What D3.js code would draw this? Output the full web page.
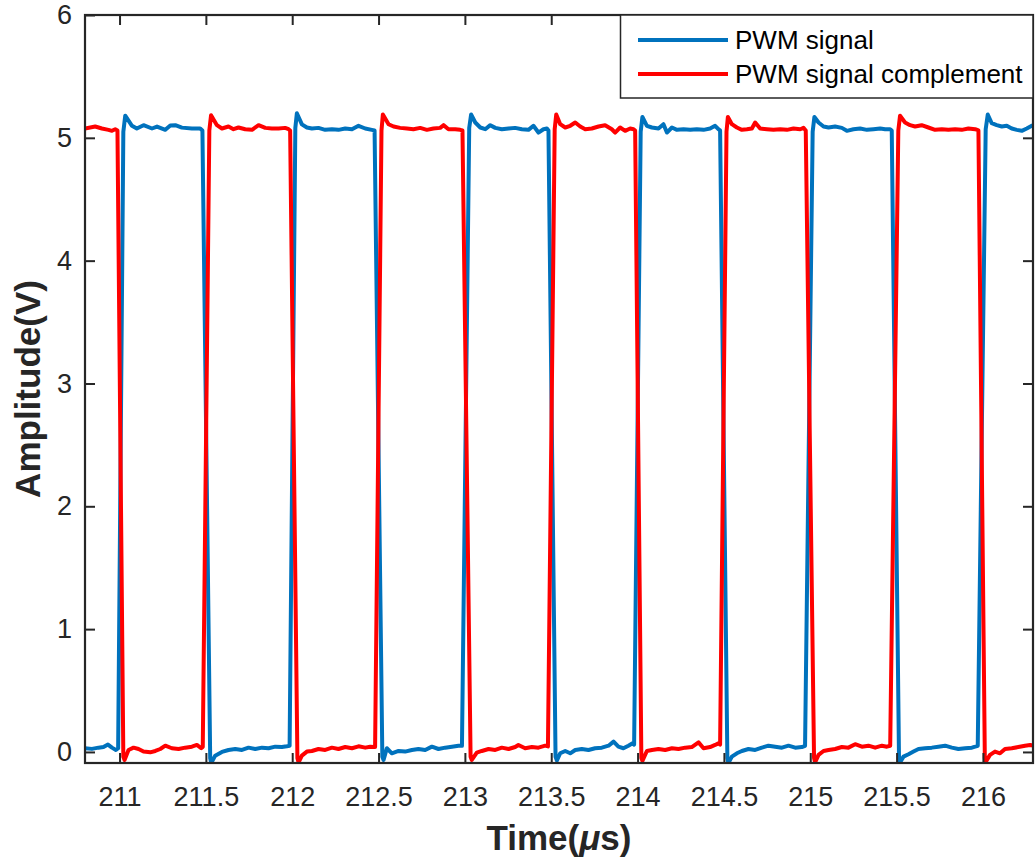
<!DOCTYPE html>
<html>
<head>
<meta charset="utf-8">
<script src="https://cdn.jsdelivr.net/npm/d3@7"></script>
<style>
  html, body { margin: 0; padding: 0; background: #fff; }
  svg { display: block; font-family: "Liberation Sans", Arial, sans-serif; }
</style>
</head>
<body>
<svg id="chart" width="1035" height="863"></svg>
<script>
// ---------------- DATA ----------------
const xTicks = [211, 211.5, 212, 212.5, 213, 213.5, 214, 214.5, 215, 215.5, 216];
const yTicks = [0, 1, 2, 3, 4, 5, 6];
const xDomain = [210.8, 216.29];
const yDomain = [-0.09, 6];
const seriesNames = ["PWM signal", "PWM signal complement"];
const seriesColors = ["#0072BD", "#FF0000"];

// PWM signal: [time (us), amplitude (V)]
const pwmSignal = [
  [210.80,0.030],[210.84,0.025],[210.878,0.035],[210.907,0.040],[210.933,0.060],[210.956,0.035],[210.979,0.016],[210.992,0.030],
  [211.022,5.05],[211.033,5.18],
  [211.072,5.098],[211.10,5.076],[211.139,5.103],[211.188,5.076],[211.217,5.092],[211.265,5.065],[211.294,5.100],[211.323,5.103],[211.361,5.083],[211.419,5.076],[211.467,5.076],[211.480,5.06],
  [211.525,-0.05],[211.531,-0.09],
  [211.554,-0.030],[211.593,0.000],[211.631,0.016],[211.670,0.024],[211.709,0.016],[211.747,0.035],[211.786,0.024],[211.825,0.035],[211.863,0.030],[211.902,0.043],[211.940,0.040],[211.969,0.046],[211.985,0.050],
  [212.018,5.08],[212.027,5.20],
  [212.056,5.11],[212.085,5.084],[212.114,5.076],[212.152,5.081],[212.191,5.065],[212.230,5.070],[212.268,5.065],[212.307,5.076],[212.346,5.070],[212.384,5.098],[212.423,5.076],[212.461,5.065],[212.477,5.06],
  [212.522,-0.04],[212.529,-0.065],
  [212.548,0.030],[212.577,-0.011],[212.616,0.008],[212.654,0.003],[212.693,0.016],[212.731,0.024],[212.770,0.016],[212.809,0.043],[212.847,0.024],[212.886,0.035],[212.925,0.043],[212.963,0.051],[212.983,0.050],
  [213.025,5.08],[213.036,5.19],
  [213.060,5.125],[213.089,5.084],[213.118,5.070],[213.147,5.103],[213.176,5.081],[213.214,5.070],[213.253,5.076],[213.291,5.081],[213.330,5.070],[213.368,5.065],[213.397,5.098],[213.426,5.043],[213.455,5.070],[213.475,5.076],[213.484,5.06],
  [213.525,-0.04],[213.533,-0.07],
  [213.552,-0.011],[213.581,0.008],[213.610,-0.011],[213.639,0.016],[213.677,0.024],[213.716,0.016],[213.754,0.030],[213.793,0.035],[213.832,0.051],[213.861,0.084],[213.889,0.043],[213.918,0.030],[213.947,0.051],[213.971,0.070],[213.980,0.060],
  [214.018,5.05],[214.028,5.17],
  [214.054,5.098],[214.083,5.084],[214.121,5.076],[214.150,5.111],[214.170,5.043],[214.199,5.084],[214.228,5.065],[214.266,5.070],[214.305,5.065],[214.343,5.070],[214.382,5.065],[214.420,5.076],[214.449,5.098],[214.468,5.070],[214.478,5.06],
  [214.520,-0.05],[214.526,-0.09],
  [214.546,-0.038],[214.575,-0.011],[214.604,0.008],[214.642,0.024],[214.681,0.016],[214.720,0.035],[214.758,0.051],[214.797,0.043],[214.836,0.035],[214.874,0.051],[214.913,0.035],[214.951,0.040],[214.970,0.050],
  [215.014,5.05],[215.024,5.17],
  [215.048,5.125],[215.077,5.092],[215.106,5.084],[215.144,5.092],[215.183,5.081],[215.212,5.057],[215.250,5.070],[215.289,5.076],[215.328,5.065],[215.366,5.070],[215.405,5.076],[215.434,5.070],[215.463,5.070],[215.472,5.06],
  [215.514,-0.05],[215.520,-0.085],
  [215.540,-0.038],[215.569,-0.019],[215.598,0.003],[215.627,0.024],[215.665,0.030],[215.704,0.035],[215.742,0.043],[215.781,0.051],[215.820,0.035],[215.858,0.024],[215.897,0.030],[215.936,0.035],[215.955,0.043],[215.970,0.050],
  [216.016,5.07],[216.028,5.19],
  [216.051,5.119],[216.080,5.103],[216.109,5.092],[216.138,5.098],[216.167,5.076],[216.196,5.065],[216.225,5.057],[216.254,5.076],[216.283,5.098],[216.290,5.103]
];

// PWM signal complement: [time (us), amplitude (V)]
const pwmComplement = [
  [210.80,5.076],[210.859,5.092],[210.898,5.076],[210.936,5.065],[210.956,5.057],[210.975,5.070],[210.988,5.06],
  [211.022,-0.04],[211.029,-0.065],
  [211.052,0.016],[211.081,0.035],[211.110,0.024],[211.139,0.003],[211.178,-0.003],[211.207,0.008],[211.236,0.024],[211.265,0.051],[211.303,0.030],[211.342,0.024],[211.380,0.035],[211.419,0.043],[211.448,0.057],[211.473,0.030],[211.482,0.040],
  [211.520,5.06],[211.530,5.184],
  [211.564,5.103],[211.593,5.076],[211.631,5.092],[211.660,5.070],[211.689,5.084],[211.728,5.070],[211.767,5.065],[211.805,5.103],[211.844,5.081],[211.882,5.076],[211.921,5.076],[211.959,5.081],[211.979,5.070],[211.988,5.06],
  [212.030,-0.05],[212.037,-0.085],
  [212.056,-0.030],[212.085,0.003],[212.114,0.008],[212.152,0.024],[212.191,0.016],[212.230,0.035],[212.268,0.024],[212.307,0.040],[212.346,0.030],[212.384,0.046],[212.423,0.035],[212.452,0.043],[212.471,0.040],[212.480,0.040],
  [212.517,5.06],[212.525,5.19],
  [212.558,5.111],[212.587,5.092],[212.625,5.081],[212.664,5.076],[212.702,5.070],[212.741,5.081],[212.780,5.065],[212.818,5.076],[212.857,5.081],[212.876,5.103],[212.905,5.070],[212.944,5.070],[212.973,5.065],[212.986,5.06],
  [213.033,-0.04],[213.040,-0.065],
  [213.069,-0.005],[213.098,0.008],[213.137,0.024],[213.176,0.016],[213.214,0.035],[213.253,0.024],[213.291,0.040],[213.310,0.057],[213.349,0.030],[213.388,0.040],[213.426,0.035],[213.465,0.051],[213.481,0.045],
  [213.520,5.07],[213.529,5.19],
  [213.552,5.111],[213.581,5.084],[213.610,5.098],[213.639,5.125],[213.668,5.092],[213.697,5.070],[213.735,5.076],[213.774,5.092],[213.812,5.103],[213.851,5.070],[213.870,5.043],[213.899,5.084],[213.928,5.057],[213.957,5.076],[213.977,5.070],[213.986,5.06],
  [214.022,-0.05],[214.028,-0.073],
  [214.054,0.008],[214.083,0.016],[214.121,0.024],[214.160,0.016],[214.199,0.030],[214.237,0.024],[214.276,0.035],[214.314,0.040],[214.353,0.078],[214.382,0.030],[214.420,0.040],[214.449,0.057],[214.468,0.070],[214.478,0.060],
  [214.515,5.05],[214.523,5.17],
  [214.546,5.111],[214.575,5.084],[214.604,5.065],[214.633,5.070],[214.662,5.076],[214.681,5.125],[214.710,5.076],[214.749,5.070],[214.787,5.065],[214.826,5.070],[214.865,5.065],[214.903,5.076],[214.942,5.070],[214.961,5.081],[214.974,5.06],
  [215.022,-0.05],[215.028,-0.085],
  [215.048,-0.024],[215.077,0.008],[215.106,0.016],[215.144,0.024],[215.183,0.040],[215.221,0.035],[215.260,0.063],[215.299,0.043],[215.337,0.051],[215.376,0.035],[215.415,0.051],[215.444,0.043],[215.463,0.050],
  [215.510,5.06],[215.520,5.18],
  [215.549,5.125],[215.578,5.103],[215.607,5.092],[215.645,5.103],[215.684,5.084],[215.723,5.065],[215.762,5.070],[215.800,5.065],[215.839,5.070],[215.877,5.065],[215.916,5.076],[215.955,5.070],[215.974,5.06],
  [216.011,-0.05],[216.017,-0.08],
  [216.041,-0.024],[216.070,0.003],[216.099,-0.011],[216.128,0.024],[216.167,0.030],[216.205,0.040],[216.244,0.051],[216.273,0.057],[216.290,0.051]
];

// ---------------- CHART ----------------
const W = 1035, H = 863;
const margin = { left: 85, top: 15, right: 2, bottom: 100 };
const iw = W - margin.left - margin.right;   // 948
const ih = H - margin.top - margin.bottom;   // 748
const axisColor = "#262626";

const svg = d3.select("#chart");
const g = svg.append("g").attr("transform", `translate(${margin.left},${margin.top})`);

const x = d3.scaleLinear().domain(xDomain).range([0, iw]);
const y = d3.scaleLinear().domain(yDomain).range([ih, 0]);

svg.append("defs").append("clipPath").attr("id", "clip")
  .append("rect").attr("x", 0).attr("y", 0).attr("width", iw).attr("height", ih);

// series lines
const line = d3.line().x(d => x(d[0])).y(d => y(d[1]));
const allSeries = [pwmSignal, pwmComplement];
const lines = g.append("g").attr("clip-path", "url(#clip)");
allSeries.forEach((s, i) => {
  lines.append("path")
    .datum(s)
    .attr("fill", "none")
    .attr("stroke", seriesColors[i])
    .attr("stroke-width", 4)
    .attr("stroke-linejoin", "round")
    .attr("d", line);
});

// axes
const fmt = d => String(d);
const tickLen = 10;
function styleAxis(sel) {
  sel.select(".domain").remove();
  sel.selectAll(".tick line").attr("stroke", axisColor).attr("stroke-width", 2);
  sel.selectAll(".tick text").attr("fill", axisColor).attr("font-size", 27);
}
g.append("g").attr("transform", `translate(0,${ih})`)
  .call(d3.axisBottom(x).tickValues(xTicks).tickFormat(fmt).tickSize(-tickLen).tickPadding(24))
  .call(styleAxis)
  .selectAll(".tick text").attr("dy", "0.71em");
g.append("g")
  .call(d3.axisTop(x).tickValues(xTicks).tickFormat("").tickSize(-tickLen))
  .call(styleAxis);
g.append("g")
  .call(d3.axisLeft(y).tickValues(yTicks).tickFormat(fmt).tickSize(-tickLen).tickPadding(13))
  .call(styleAxis);
g.append("g").attr("transform", `translate(${iw},0)`)
  .call(d3.axisRight(y).tickValues(yTicks).tickFormat("").tickSize(-tickLen))
  .call(styleAxis);

// frame
g.append("rect").attr("x", 0).attr("y", 0).attr("width", iw).attr("height", ih)
  .attr("fill", "none").attr("stroke", axisColor).attr("stroke-width", 2.2);

// axis titles
const xt = svg.append("text")
  .attr("x", margin.left + iw / 2).attr("y", 850)
  .attr("text-anchor", "middle").attr("font-size", 35).attr("font-weight", "bold")
  .attr("fill", axisColor);
xt.append("tspan").text("Time(");
xt.append("tspan").attr("font-style", "italic").text("\u03BC");
xt.append("tspan").text("s)");

svg.append("text")
  .attr("transform", `translate(40,${margin.top + ih / 2}) rotate(-90)`)
  .attr("text-anchor", "middle").attr("font-size", 35).attr("font-weight", "bold")
  .attr("fill", axisColor)
  .text("Amplitude(V)");

// legend
const lg = svg.append("g");
const lx0 = 620.5, ly0 = 15, lw = W - margin.right - lx0, lh = 83;
lg.append("rect").attr("x", lx0).attr("y", ly0).attr("width", lw).attr("height", lh)
  .attr("fill", "#fff").attr("stroke", axisColor).attr("stroke-width", 1.5);
const rowY = [40, 74];
seriesNames.forEach((name, i) => {
  lg.append("line")
    .attr("x1", 638).attr("x2", 728).attr("y1", rowY[i]).attr("y2", rowY[i])
    .attr("stroke", seriesColors[i]).attr("stroke-width", 4);
  lg.append("text")
    .attr("x", 735).attr("y", rowY[i]).attr("dy", "0.35em")
    .attr("font-size", 26).attr("fill", "#000")
    .text(name);
});
</script>
</body>
</html>
